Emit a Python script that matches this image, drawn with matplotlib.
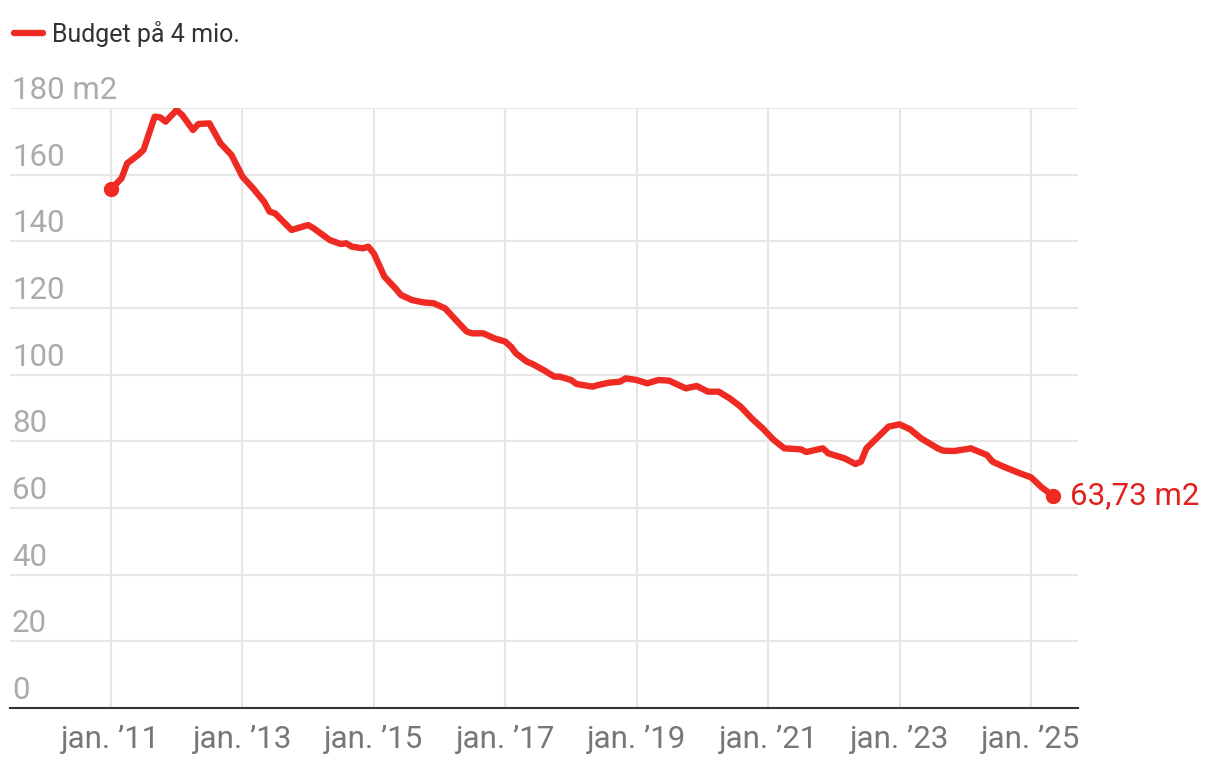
#!/usr/bin/env python3
"""Boligareal man kan koebe for et budget paa 4 mio., 2011-2025."""

import pandas as pd
import matplotlib
matplotlib.use("Agg")
import matplotlib.pyplot as plt

# Data (monthly points, m2)
months = [
    "2011-01", "2011-03", "2011-04", "2011-06", "2011-07", "2011-08", "2011-09",
    "2011-10", "2011-11", "2012-01", "2012-02", "2012-04", "2012-05", "2012-07",
    "2012-09", "2012-11", "2013-01", "2013-03", "2013-05", "2013-06", "2013-07",
    "2013-10", "2014-01", "2014-02", "2014-05", "2014-07", "2014-08", "2014-09",
    "2014-11", "2014-12", "2015-01", "2015-03", "2015-05", "2015-06", "2015-08",
    "2015-10", "2015-12", "2016-02", "2016-04", "2016-06", "2016-07", "2016-09",
    "2016-11", "2017-01", "2017-02", "2017-03", "2017-05", "2017-06", "2017-08",
    "2017-10", "2017-11", "2018-01", "2018-02", "2018-05", "2018-06", "2018-08",
    "2018-10", "2018-11", "2019-01", "2019-03", "2019-05", "2019-07", "2019-08",
    "2019-10", "2019-12", "2020-02", "2020-04", "2020-06", "2020-08", "2020-10",
    "2020-12", "2021-02", "2021-04", "2021-07", "2021-08", "2021-11", "2021-12",
    "2022-03", "2022-05", "2022-06", "2022-07", "2022-11", "2023-01", "2023-03",
    "2023-05", "2023-08", "2023-09", "2023-11", "2024-01", "2024-02", "2024-05",
    "2024-06", "2024-08", "2024-11", "2025-01", "2025-03", "2025-05",
]
area_m2 = [
    155.6, 158.9, 163.4, 165.9, 167.4, 172.4, 177.4,
    177.2, 175.9, 179.4, 177.9, 173.4, 175.2, 175.4,
    169.4, 165.9, 159.4, 155.9, 151.9, 148.9, 148.4,
    143.4, 144.9, 143.9, 140.4, 139.2, 139.4, 138.4,
    137.9, 138.4, 136.4, 129.4, 125.9, 123.9, 122.4,
    121.7, 121.4, 119.9, 116.4, 112.9, 112.4, 112.4,
    110.9, 109.9, 108.4, 106.4, 103.9, 103.2, 101.4,
    99.4, 99.4, 98.4, 97.2, 96.4, 96.9, 97.6,
    97.9, 98.9, 98.4, 97.4, 98.4, 98.2, 97.4,
    95.9, 96.6, 94.9, 94.9, 92.9, 90.4, 86.9,
    83.9, 80.4, 77.9, 77.6, 76.8, 77.9, 76.4,
    74.9, 73.2, 73.9, 77.9, 84.4, 85.1, 83.6,
    80.9, 77.9, 77.2, 77.1, 77.6, 77.9, 75.9,
    73.9, 72.4, 70.4, 69.2, 66.2, 63.73,
]
series_name = "Budget på 4 mio."
y_ticks = [0, 20, 40, 60, 80, 100, 120, 140, 160, 180]
x_tick_years = [2011, 2013, 2015, 2017, 2019, 2021, 2023, 2025]

RED = "#ef2a22"
RED_TEXT = "#e2211c"
GRID = "#e6e6e6"
FONT = ["Roboto", "DejaVu Sans"]

plt.rcParams["font.family"] = FONT

dates = pd.to_datetime(months)

fig = plt.figure(figsize=(12.2, 7.64), dpi=100)
ax = fig.add_axes([10 / 1220, 56 / 764, 1068 / 1220, 600 / 764])

ax.plot(dates, area_m2, color=RED, lw=4.6, solid_joinstyle="round",
        solid_capstyle="round", label=series_name, zorder=3)
ax.plot([dates[0], dates[-1]], [area_m2[0], area_m2[-1]], "o", color=RED,
        markersize=10, zorder=4)

last_label = f"{area_m2[-1]:.2f}".replace(".", ",") + " m2"
ax.annotate(last_label, (dates[-1], area_m2[-1]), xytext=(12.5, 0),
            textcoords="offset points", va="center", ha="left",
            fontsize=22.5, color=RED_TEXT, annotation_clip=False)

# axes limits
ax.set_ylim(0, 180)
ax.set_xlim(pd.Timestamp("2011-01-01") - pd.Timedelta(days=561),
            pd.Timestamp("2025-01-01") + pd.Timedelta(days=261))

# grid
tick_dates = [pd.Timestamp(f"{y}-01-01") for y in x_tick_years]
ax.set_xticks(tick_dates)
ax.set_xticklabels([f"jan. ’{str(y)[2:]}" for y in x_tick_years])
ax.set_yticks(y_ticks)
ax.set_yticklabels([])
ax.grid(True, color=GRID, lw=1.5, zorder=0)
ax.set_axisbelow(True)
ax.tick_params(axis="both", length=0)
ax.tick_params(axis="x", pad=12, labelsize=22.5, labelcolor="#777777")

for s in ["top", "right", "left"]:
    ax.spines[s].set_visible(False)
ax.spines["bottom"].set_color("#333333")
ax.spines["bottom"].set_linewidth(1.5)
ax.spines["bottom"].set_zorder(5)

# y labels sit inside the plot, above their gridline
for v in y_ticks:
    txt = f"{v} m2" if v == y_ticks[-1] else f"{v}"
    ax.annotate(txt, (0, v), xycoords=ax.get_yaxis_transform(),
                xytext=(1.5, 6.5), textcoords="offset points",
                ha="left", va="baseline", fontsize=22.5, color="#ababab")

ax.legend(loc="upper left", bbox_to_anchor=(4 / 1220, 1 - 11 / 764),
          bbox_transform=fig.transFigure, frameon=False, fontsize=18,
          handlelength=1.15, handletextpad=0.35, borderaxespad=0,
          labelcolor="#333333")

fig.savefig("out.png", dpi=100)
